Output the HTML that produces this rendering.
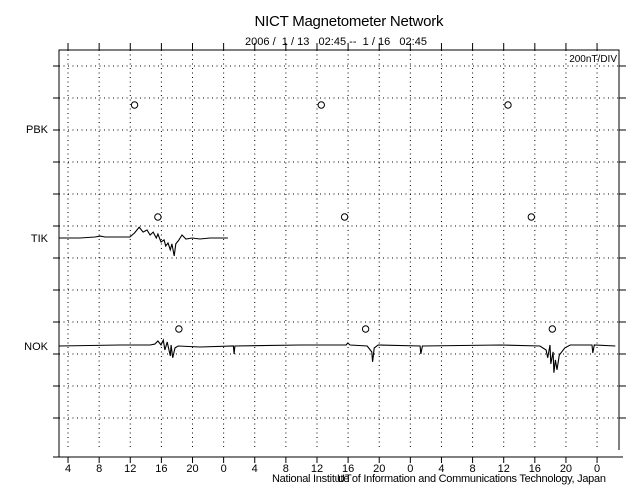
<!DOCTYPE html>
<html><head><meta charset="utf-8"><style>
body{margin:0;background:#fff;}
svg{display:block;font-family:"Liberation Sans",sans-serif;}
</style></head><body>
<svg id="chart" width="640" height="500" viewBox="0 0 640 500">
<text x="349" y="26" font-size="15" text-anchor="middle" textLength="189">NICT Magnetometer Network</text>
<text x="245" y="45" font-size="11" textLength="182" xml:space="preserve">2006 /  1 / 13   02:45 --  1 / 16   02:45</text>
<text x="617" y="62" font-size="10" text-anchor="end">200nT/DIV</text>
<g id="grid"></g>
<g id="axes"></g>
<g id="marks"></g>
<text x="337" y="482" font-size="11">UT</text>
<text x="272" y="482" font-size="11" textLength="334">National Institute of Information and Communications Technology, Japan</text>
</svg>
<script>
const hourLabels=["4","8","12","16","20","0","4","8","12","16","20","0","4","8","12","16","20","0"];
const stations=["PBK","TIK","NOK"];
const stationBase=[129,238,346];
const markerHours=[[9.8,33.8,57.8],[12.8,36.8,60.8],[15.5,39.5,63.5]];
const tikHours=[0.1,2.8,4.7,5.4,6.0,9.2,9.8,10.4,10.9,11.4,11.8,12.2,12.6,12.8,13.2,13.6,13.8,14.1,14.4,14.6,14.9,15.1,15.5,15.9,16.4,17.2,18.2,19.5,20.8,21.8];
const tikValues=[0,0,6,12,6,6,31,68,37,50,19,37,0,25,-25,-12,-50,-31,-74,-37,-112,-37,-12,19,-6,0,-6,0,0,0];
const nokHours=[0.1,7.9,11.8,12.4,12.8,13.2,13.5,13.7,14.0,14.4,14.5,14.7,15.0,15.4,18.2,22.5,22.6,22.7,31.1,37.0,37.2,37.5,39.7,40.1,40.3,40.4,40.6,41.1,46.5,46.6,46.8,56.8,61.9,62.7,62.9,63.2,63.3,63.6,63.7,63.9,64.1,64.4,64.7,65.1,65.8,68.6,68.7,68.9,71.6];
const nokValues=[0,6,6,12,31,6,37,-25,25,-62,6,-74,-12,0,-6,0,-50,0,6,6,19,6,0,-25,-37,-99,-12,6,0,-50,0,6,0,-25,-74,6,-112,-37,-167,-87,-149,-56,-37,-12,6,6,-43,6,0];

const NS="http://www.w3.org/2000/svg";
const L=59,R=619,T=50,B=457;
const markerOffset=[24,21,17];
function xH(h){return 58.3+h*7.78;}
function yV(v,base){return base-v/200*32;}
function mk(tag,attrs,parent){const e=document.createElementNS(NS,tag);for(const k in attrs)e.setAttribute(k,attrs[k]);parent.appendChild(e);return e;}
const grid=document.getElementById('grid'),axes=document.getElementById('axes'),marks=document.getElementById('marks');
const gridY=[];for(let k=0;k<12;k++)gridY.push(66+32*k);
hourLabels.forEach((lab,i)=>{
  const x=xH(1.25+4*i);
  const v=mk('line',{x1:x,y1:T,x2:x,y2:450,stroke:'#000','stroke-width':1,'stroke-dasharray':'1 3.5'},grid);
  
  
  const t1=mk('line',{x1:x,y1:43,x2:x,y2:T,stroke:'#000'},axes);
  
  
  const t2=mk('line',{x1:x,y1:B,x2:x,y2:463,stroke:'#000'},axes);
  
  
  const tx=mk('text',{x:x,y:472,'font-size':11,'text-anchor':'middle'},axes);
  tx.textContent=lab;
  
  
});
gridY.forEach(y=>{
  const h=mk('line',{x1:L,y1:y,x2:R,y2:y,stroke:'#000','stroke-dasharray':'1 3.5'},grid);
  
  
  const a=mk('line',{x1:53,y1:y,x2:L,y2:y,stroke:'#000'},axes);
  
  
  const b=mk('line',{x1:R,y1:y,x2:626,y2:y,stroke:'#000'},axes);
  
  
});
const fr=mk('path',{d:`M${L},${B}V${T}H${R}V450`,fill:'none',stroke:'#000'},axes);


const xa=mk('line',{x1:53,y1:B,x2:623,y2:B,stroke:'#000'},axes);


stations.forEach((s,i)=>{
  const t=mk('text',{x:48,y:stationBase[i]+4,'font-size':11,'text-anchor':'end'},axes);
  t.textContent=s;
  
  
  markerHours[i].forEach(h=>{
    const c=mk('circle',{cx:xH(h),cy:stationBase[i]-markerOffset[i],r:3.2,fill:'none',stroke:'#000'},marks);
    
    
  });
});
function trace(hours,vals,base,name){
  const d=hours.map((h,i)=>(i?'L':'M')+xH(h).toFixed(1)+','+yV(vals[i],base).toFixed(1)).join('');
  const p=mk('path',{d:d,fill:'none',stroke:'#000','stroke-width':1.1},marks);
  
  
}
trace(tikHours,tikValues,stationBase[1],'tik-trace');
trace(nokHours,nokValues,stationBase[2],'nok-trace');
</script>
</body></html>
